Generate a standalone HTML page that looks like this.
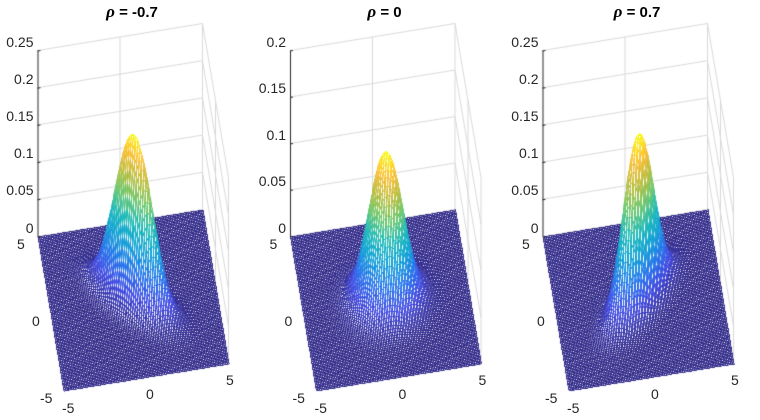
<!DOCTYPE html>
<html><head><meta charset="utf-8"><style>
body{margin:0;background:#fff;width:760px;height:420px;overflow:hidden;position:relative;font-family:"Liberation Sans",sans-serif}
canvas{position:absolute;left:0;top:0}
.t{position:absolute;font-size:14px;color:#262626;white-space:nowrap}
.ti{position:absolute;font-size:15px;font-weight:bold;color:#000;transform:translateX(-50%);top:2px;white-space:nowrap}
.ti i{font-family:"Liberation Serif",serif;font-size:17px}
</style></head><body>
<canvas id="c" width="760" height="420"></canvas>
<div id="lbl"></div>
<script>
const cv=document.getElementById('c'),ctx=cv.getContext('2d');
const stops=[[0,45,38,135],[0.125,62,70,225],[0.25,35,115,235],[0.375,15,160,215],[0.5,25,185,185],[0.625,105,200,110],[0.75,185,190,60],[0.875,252,190,50],[1,249,251,14]];
function par(t){t=Math.max(0,Math.min(1,t));for(let i=1;i<stops.length;i++){if(t<=stops[i][0]){const a=stops[i-1],b=stops[i],f=(t-a[0])/(b[0]-a[0]);return `rgb(${Math.round(a[1]+f*(b[1]-a[1]))},${Math.round(a[2]+f*(b[2]-a[2]))},${Math.round(a[3]+f*(b[3]-a[3]))})`;}}return 'rgb(249,251,14)';}
const panels=[{rho:-0.7,zmax:0.25,off:0,title:'-0.7'},{rho:0,zmax:0.2,off:252.5,title:'0'},{rho:0.7,zmax:0.25,off:505,title:'0.7'}];
let html='';
const s2=1.0;
const sn=v=>Math.round(v)+0.5;
panels.forEach(p=>{
 const o=p.off;
 const P=(x,y,z)=>[133+o+16.5*x-2.6*y, 300-2.7*x-15.4*y-z/p.zmax*186];
 ctx.strokeStyle='#d9d9d9';ctx.lineWidth=1;
 const nz=Math.round(p.zmax/0.05);
 for(let k=1;k<=nz;k++){const z=k*0.05;let a=P(-5,5,z),b=P(5,5,z),c=P(5,-5,z);
  ctx.beginPath();ctx.moveTo(a[0],a[1]);ctx.lineTo(b[0],b[1]);ctx.lineTo(c[0],c[1]);ctx.stroke();}
 [[0,5],[5,5],[5,0],[5,-5]].forEach(q=>{let a=P(q[0],q[1],0),b=P(q[0],q[1],p.zmax);ctx.beginPath();ctx.moveTo(a[0],a[1]);ctx.lineTo(b[0],b[1]);ctx.stroke();});
 {let a=P(-5,5,0),b=P(5,5,0),c=P(5,-5,0);ctx.beginPath();ctx.moveTo(a[0],a[1]);ctx.lineTo(b[0],b[1]);ctx.lineTo(c[0],c[1]);ctx.stroke();}
 const n=100,st=10/n,r=p.rho,d=1-r*r,A=1/(2*Math.PI*s2*Math.sqrt(d));
 const Z=[];let zm=0;
 for(let i=0;i<=n;i++){Z[i]=[];for(let j=0;j<=n;j++){const x=-5+i*st,y=-5+j*st;const z=A*Math.exp(-(x*x-2*r*x*y+y*y)/(2*s2*d));Z[i][j]=z;if(z>zm)zm=z;}}
 const quads=[];
 for(let i=0;i<n;i++)for(let j=0;j<n;j++){const x=-5+(i+.5)*st,y=-5+(j+.5)*st;quads.push([2.7*x+15.4*y,i,j]);}
 quads.sort((a,b)=>b[0]-a[0]);
 ctx.lineWidth=1;
 quads.forEach(q=>{const i=q[1],j=q[2];
  const v=[[i,j],[i+1,j],[i+1,j+1],[i,j+1]].map(k=>P(-5+k[0]*st,-5+k[1]*st,Z[k[0]][k[1]]));
  const za=(Z[i][j]+Z[i+1][j]+Z[i+1][j+1]+Z[i][j+1])/4;
  ctx.beginPath();ctx.moveTo(sn(v[0][0]),sn(v[0][1]));for(let k=1;k<4;k++)ctx.lineTo(sn(v[k][0]),sn(v[k][1]));ctx.closePath();
  ctx.fillStyle='#fff';ctx.fill();ctx.strokeStyle=par(za/zm);ctx.stroke();});
 ctx.strokeStyle='#262626';ctx.lineWidth=1;
 {let a=P(-5,5,0),b=P(-5,5,p.zmax);ctx.beginPath();ctx.moveTo(a[0]+.5,a[1]);ctx.lineTo(b[0]+.5,b[1]);ctx.stroke();
  for(let k=0;k<=nz;k++){let t=P(-5,5,k*0.05);ctx.beginPath();ctx.moveTo(t[0],t[1]+.5);ctx.lineTo(t[0]+3,t[1]);ctx.stroke();
   const lab=['0','0.05','0.1','0.15','0.2','0.25'][k];
   html+=`<div class="t" style="right:${760-(t[0]-4)}px;top:${t[1]-17}px">${lab}</div>`;}}
 html+=`<div class="t" style="left:${o+17}px;top:236px">5</div>`;
 html+=`<div class="t" style="left:${o+32}px;top:313px">0</div>`;
 html+=`<div class="t" style="left:${o+40}px;top:390px">-5</div>`;
 html+=`<div class="t" style="left:${o+62}px;top:400px">-5</div>`;
 html+=`<div class="t" style="left:${o+146}px;top:386px">0</div>`;
 html+=`<div class="t" style="left:${o+226}px;top:372px">5</div>`;
 html+=`<div class="ti" style="left:${o+132}px"><i>ρ</i> = ${p.title}</div>`;
});
document.getElementById('lbl').innerHTML=html;
</script>
</body></html>
